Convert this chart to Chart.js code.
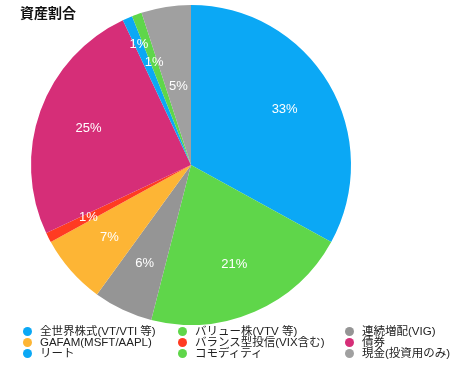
<!DOCTYPE html>
<html><head><meta charset="utf-8">
<script src="https://cdn.jsdelivr.net/npm/chart.js@4/dist/chart.umd.min.js"></script>
<style>
html,body{margin:0;padding:0;background:#fff;width:450px;height:365px;overflow:hidden;font-family:"Liberation Sans","Noto Sans CJK JP",sans-serif;}
#title{position:absolute;left:20px;top:2px;font-size:14px;font-weight:bold;color:#111;font-family:"Noto Sans CJK JP",sans-serif;}
#wrap{position:absolute;left:0;top:0;width:450px;height:325px;}
#legend{position:absolute;left:20px;top:326px;width:430px;display:grid;grid-template-columns:155px 167px 110px;row-gap:0;font-size:11.5px;line-height:11px;color:#222;}
#legend .it{display:flex;align-items:center;white-space:nowrap;}
#legend .dot{width:9px;height:9px;border-radius:50%;margin-left:3px;margin-right:8px;flex:none;}
</style></head>
<body>
<div id="wrap"><canvas id="c"></canvas></div>
<div id="title">資産割合</div>
<div id="legend"></div>
<script>
const categories = ["全世界株式(VT/VTI 等)","バリュー株(VTV 等)","連続増配(VIG)","GAFAM(MSFT/AAPL)","バランス型投信(VIX含む)","債券","リート","コモディティ","現金(投資用のみ)"];
const values = [33, 21, 6, 7, 1, 25, 1, 1, 5];
const colors = ["#0BA8F5","#5FD64A","#959595","#FDB535","#FF3B22","#D62E78","#0BA8F5","#5FD64A","#A0A0A0"];
const labelRadius = [0.68,0.68,0.68,0.68,0.72,0.68,0.82,0.68,0.5];
const legendOrder = [0,1,2,3,4,5,6,7,8];

const total = values.reduce((a,b)=>a+b,0);
const pctLabels = {
  id:'pctLabels',
  afterDatasetsDraw(chart){
    const ctx = chart.ctx;
    const meta = chart.getDatasetMeta(0);
    ctx.save();
    ctx.fillStyle = '#fff';
    ctx.font = '13px "Liberation Sans", "DejaVu Sans", sans-serif';
    ctx.textAlign = 'center';
    ctx.textBaseline = 'middle';
    meta.data.forEach((arc,i)=>{
      const p = arc.getProps(['x','y','startAngle','endAngle','outerRadius'],true);
      const mid = (p.startAngle+p.endAngle)/2;
      const r = p.outerRadius*labelRadius[i];
      const pct = Math.round(values[i]/total*100)+'%';
      ctx.fillText(pct, p.x+Math.cos(mid)*r, p.y+Math.sin(mid)*r);
    });
    ctx.restore();
  }
};

new Chart(document.getElementById('c'),{
  type:'pie',
  data:{labels:categories,datasets:[{data:values,backgroundColor:colors,borderWidth:0}]},
  options:{
    responsive:true,maintainAspectRatio:false,animation:false,
    layout:{padding:{top:5,bottom:0,left:20,right:88}},
    plugins:{legend:{display:false},tooltip:{enabled:false}}
  },
  plugins:[pctLabels]
});

const lg = document.getElementById('legend');
legendOrder.forEach(i=>{
  const d=document.createElement('div');d.className='it';
  d.innerHTML='<span class="dot" style="background:'+colors[i]+'"></span><span></span>';
  d.lastChild.textContent=categories[i];
  lg.appendChild(d);
});
</script>
</body></html>
